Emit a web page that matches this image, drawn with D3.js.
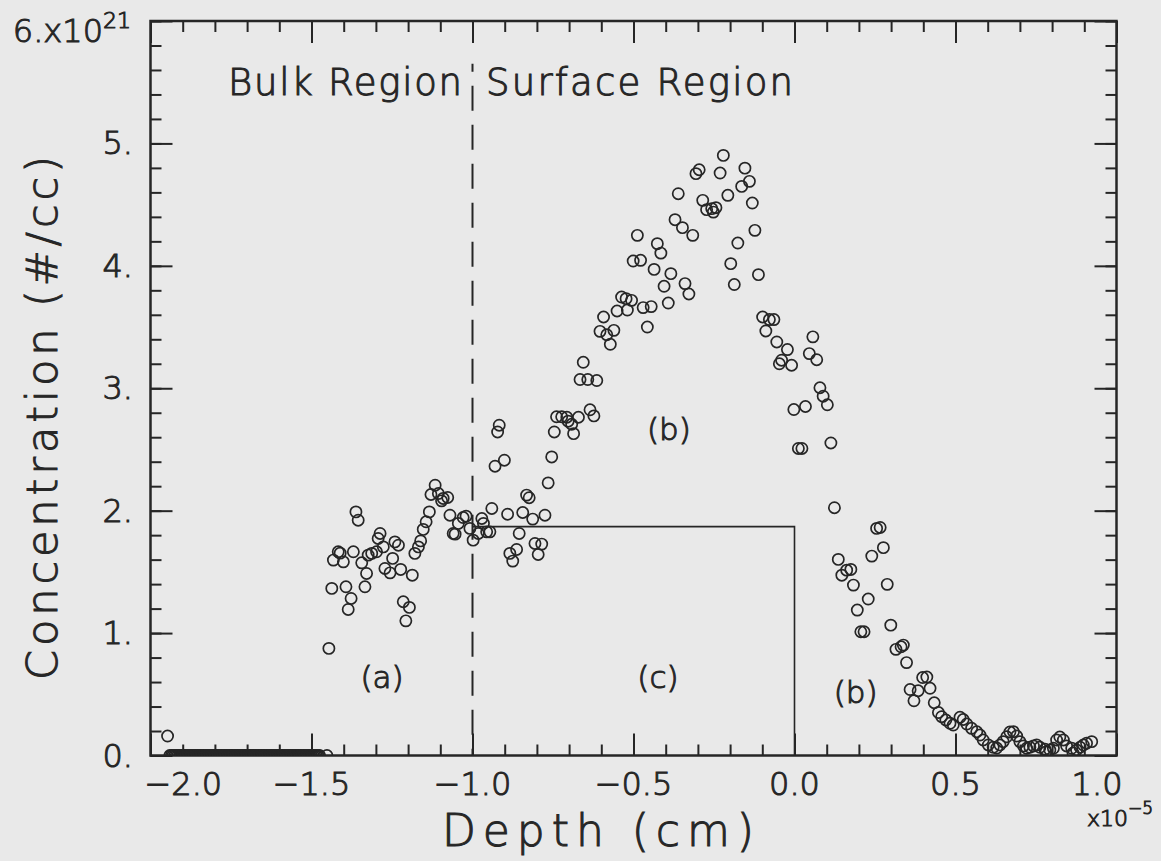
<!DOCTYPE html>
<html>
<head>
<meta charset="utf-8">
<script src="https://cdn.jsdelivr.net/npm/d3@7"></script>
<style>
  body { margin: 0; background: #e9e9e9; }
  svg { display: block; }
  text {
    font-family: "DejaVu Sans", sans-serif;
    font-weight: 200;
    fill: #262626;
    stroke: #262626;
    stroke-width: 1;
  }
</style>
</head>
<body>
<div id="chart"></div>
<script>
// depth in units of 1e-5 cm, concentration in units of 1e21 #/cc
const depth = [
  -1.947, -1.452, -1.446, -1.437, -1.432, -1.417, -1.411, -1.401, -1.393, -1.386,
  -1.377, -1.370, -1.362, -1.355, -1.344, -1.334, -1.329, -1.324, -1.313, -1.298,
  -1.293, -1.287, -1.277, -1.272, -1.256, -1.248, -1.241, -1.230, -1.223, -1.215,
  -1.207, -1.196, -1.187, -1.179, -1.168, -1.161, -1.153, -1.144, -1.134, -1.129,
  -1.116, -1.106, -1.096, -1.091, -1.077, -1.070, -1.060, -1.054, -1.044, -1.029,
  -1.020, -1.008, -0.998, -0.982, -0.971, -0.966, -0.956, -0.946, -0.940, -0.930,
  -0.922, -0.917, -0.901, -0.891, -0.884, -0.875, -0.863, -0.855, -0.844, -0.832,
  -0.824, -0.813, -0.806, -0.796, -0.785, -0.775, -0.765, -0.754, -0.746, -0.739,
  -0.723, -0.707, -0.703, -0.692, -0.686, -0.671, -0.666, -0.656, -0.642, -0.635,
  -0.623, -0.614, -0.604, -0.593, -0.583, -0.572, -0.561, -0.551, -0.537, -0.523,
  -0.519, -0.506, -0.501, -0.488, -0.478, -0.470, -0.457, -0.445, -0.436, -0.426,
  -0.415, -0.405, -0.392, -0.384, -0.371, -0.361, -0.348, -0.340, -0.328, -0.316,
  -0.306, -0.296, -0.285, -0.273, -0.257, -0.252, -0.244, -0.231, -0.221, -0.207,
  -0.198, -0.187, -0.176, -0.164, -0.154, -0.140, -0.131, -0.123, -0.112, -0.099,
  -0.089, -0.078, -0.064, -0.055, -0.047, -0.040, -0.022, -0.009, -0.002, 0.012,
  0.023, 0.034, 0.046, 0.057, 0.069, 0.079, 0.089, 0.102, 0.113, 0.124,
  0.136, 0.147, 0.162, 0.175, 0.183, 0.195, 0.206, 0.216, 0.229, 0.240,
  0.255, 0.266, 0.276, 0.288, 0.299, 0.315, 0.331, 0.338, 0.348, 0.359,
  0.371, 0.384, 0.398, 0.411, 0.421, 0.434, 0.447, 0.457, 0.470, 0.483,
  0.493, 0.514, 0.524, 0.535, 0.550, 0.566, 0.576, 0.586, 0.602, 0.617,
  0.628, 0.638, 0.648, 0.659, 0.669, 0.680, 0.690, 0.700, 0.711, 0.721,
  0.731, 0.742, 0.752, 0.762, 0.778, 0.781, 0.793, 0.804, 0.814, 0.824,
  0.835, 0.845, 0.861, 0.865, 0.876, 0.887, 0.897, 0.907, 0.923
];
const conc = [
  0.159, 0.000, 0.875, 1.365, 1.596, 1.664, 1.653, 1.582, 1.378, 1.193,
  1.283, 1.664, 1.990, 1.922, 1.574, 1.378, 1.487, 1.637, 1.651, 1.664,
  1.773, 1.814, 1.704, 1.528, 1.492, 1.610, 1.745, 1.718, 1.520, 1.256,
  1.100, 1.210, 1.473, 1.651, 1.704, 1.753, 1.847, 1.909, 1.990, 2.132,
  2.208, 2.140, 2.080, 2.100, 2.108, 1.963, 1.814, 1.808, 1.896, 1.944,
  1.955, 1.855, 1.759, 1.814, 1.936, 1.896, 1.827, 1.827, 2.018, 2.363,
  2.643, 2.698, 2.412, 1.971, 1.651, 1.588, 1.683, 1.814, 1.985, 2.127,
  2.106, 1.931, 1.732, 1.642, 1.727, 1.963, 2.227, 2.439, 2.643, 2.767,
  2.767, 2.763, 2.731, 2.706, 2.629, 2.763, 3.071, 3.212, 3.071, 2.824,
  2.774, 3.063, 3.465, 3.582, 3.437, 3.359, 3.473, 3.631, 3.745, 3.732,
  3.639, 3.718, 4.039, 4.249, 4.045, 3.659, 3.500, 3.667, 3.971, 4.181,
  4.104, 3.833, 3.696, 3.936, 4.377, 4.589, 4.312, 3.855, 3.770, 4.249,
  4.753, 4.785, 4.535, 4.459, 4.467, 4.439, 4.475, 4.758, 4.902, 4.576,
  4.018, 3.847, 4.186, 4.649, 4.798, 4.690, 4.513, 4.290, 3.928, 3.582,
  3.468, 3.561, 3.561, 3.378, 3.200, 3.229, 3.316, 3.188, 2.826, 2.508,
  2.508, 2.851, 3.283, 3.420, 3.233, 3.004, 2.935, 2.865, 2.553, 2.024,
  1.602, 1.473, 1.514, 1.520, 1.392, 1.188, 1.011, 1.011, 1.278, 1.629,
  1.855, 1.863, 1.698, 1.398, 1.065, 0.867, 0.888, 0.902, 0.759, 0.539,
  0.447, 0.529, 0.637, 0.641, 0.549, 0.431, 0.351, 0.317, 0.290, 0.263,
  0.249, 0.312, 0.294, 0.257, 0.222, 0.194, 0.167, 0.127, 0.086, 0.067,
  0.061, 0.086, 0.113, 0.153, 0.192, 0.194, 0.159, 0.113, 0.078, 0.059,
  0.067, 0.078, 0.086, 0.067, 0.051, 0.029, 0.045, 0.059, 0.127, 0.151,
  0.127, 0.078, 0.059, 0.020, 0.045, 0.067, 0.086, 0.100, 0.113
];
// dense run of zero readings deep in the bulk
const zeroDepth = [
  -1.940, -1.935, -1.930, -1.925, -1.920, -1.915, -1.910, -1.905, -1.900, -1.895,
  -1.890, -1.885, -1.880, -1.875, -1.870, -1.865, -1.860, -1.855, -1.850, -1.845,
  -1.840, -1.835, -1.830, -1.825, -1.820, -1.815, -1.810, -1.805, -1.800, -1.795,
  -1.790, -1.785, -1.780, -1.775, -1.770, -1.765, -1.760, -1.755, -1.750, -1.745,
  -1.740, -1.735, -1.730, -1.725, -1.720, -1.715, -1.710, -1.705, -1.700, -1.695,
  -1.690, -1.685, -1.680, -1.675, -1.670, -1.665, -1.660, -1.655, -1.650, -1.645,
  -1.640, -1.635, -1.630, -1.625, -1.620, -1.615, -1.610, -1.605, -1.600, -1.595,
  -1.590, -1.585, -1.580, -1.575, -1.570, -1.565, -1.560, -1.555, -1.550, -1.545,
  -1.540, -1.535, -1.530, -1.525, -1.520, -1.515, -1.510, -1.505, -1.500, -1.495,
  -1.490, -1.485, -1.480, -1.475
];
// region (c) step
const stepDepth = [-1.0, 0.0, 0.0];
const stepConc = [1.87, 1.87, 0.0];
const boundaryDepth = -1.0;

const xTicks = [-2.0, -1.5, -1.0, -0.5, 0.0, 0.5, 1.0];
const xTickLabels = ["\u22122.0", "\u22121.5", "\u22121.0", "\u22120.5", "0.0", "0.5", "1.0"];
const yTicks = [0, 1, 2, 3, 4, 5];
const yTickLabels = ["0.", "1.", "2.", "3.", "4.", "5."];
const regionNames = ["Bulk Region", "Surface Region"];
const partLabels = ["(a)", "(b)", "(c)", "(b)"];
const partDepth = [-1.281, -0.39, -0.424, 0.19];
const partConc = [0.55, 2.58, 0.55, 0.43];

const width = 1161;
const height = 861;
const margin = { top: 21, right: 44.5, bottom: 105.5, left: 150.5 };
const ink = "#262626";

const svg = d3
  .select("#chart")
  .append("svg")
  .attr("width", width)
  .attr("height", height);

svg.append("rect").attr("width", width).attr("height", height).attr("fill", "#e9e9e9");

const x = d3.scaleLinear().domain([-2.0, 1.0]).range([margin.left, width - margin.right]);
const y = d3.scaleLinear().domain([0, 6]).range([height - margin.bottom, margin.top]);

svg
  .append("clipPath")
  .attr("id", "plot-clip")
  .append("rect")
  .attr("x", x(-2))
  .attr("y", y(6))
  .attr("width", x(1) - x(-2))
  .attr("height", y(0) - y(6));

// ticks (inward, all four sides)
const xMinor = d3.range(-20, 11).map((d) => d / 10);
const yMinor = d3.range(0, 31).map((d) => d / 5);

function tickAxis(axis, scale, values, size, transform) {
  const g = svg
    .append("g")
    .attr("transform", transform)
    .call(axis(scale).tickValues(values).tickSize(size).tickFormat(""));
  g.select(".domain").remove();
  g.selectAll("line").attr("stroke", ink).attr("stroke-width", 2);
}
tickAxis(d3.axisBottom, x, xMinor, -11, `translate(0,${y(0)})`);
tickAxis(d3.axisBottom, x, xTicks, -22, `translate(0,${y(0)})`);
tickAxis(d3.axisTop, x, xMinor, -11, `translate(0,${y(6)})`);
tickAxis(d3.axisTop, x, xTicks, -22, `translate(0,${y(6)})`);
tickAxis(d3.axisLeft, y, yMinor, -11, `translate(${x(-2)},0)`);
tickAxis(d3.axisLeft, y, yTicks.concat([6]), -22, `translate(${x(-2)},0)`);
tickAxis(d3.axisRight, y, yMinor, -11, `translate(${x(1)},0)`);
tickAxis(d3.axisRight, y, yTicks.concat([6]), -22, `translate(${x(1)},0)`);

svg
  .append("rect")
  .attr("x", x(-2))
  .attr("y", y(6))
  .attr("width", x(1) - x(-2))
  .attr("height", y(0) - y(6))
  .attr("fill", "none")
  .attr("stroke", ink)
  .attr("stroke-width", 2.5);

// tick labels
svg
  .selectAll(".xlab")
  .data(xTicks)
  .join("text")
  .attr("class", "xlab")
  .attr("x", (d, i) => (i === 0 ? x(d) - 6 : i === xTicks.length - 1 ? x(d) + 6 : x(d)))
  .attr("y", 795)
  .attr("text-anchor", (d, i) => (i === 0 ? "start" : i === xTicks.length - 1 ? "end" : "middle"))
  .attr("font-size", 32)
  .text((d, i) => xTickLabels[i]);

svg
  .selectAll(".ylab")
  .data(yTicks)
  .join("text")
  .attr("class", "ylab")
  .attr("x", 133)
  .attr("y", (d) => y(d) + 11)
  .attr("text-anchor", "end")
  .attr("font-size", 32)
  .text((d, i) => yTickLabels[i]);

const yTopLabel = svg.append("text").attr("x", 131).attr("y", 42).attr("text-anchor", "end").attr("font-size", 32);
yTopLabel.append("tspan").text("6.x10");
yTopLabel.append("tspan").attr("dy", -14).attr("font-size", 22).text("21");

const xExp = svg
  .append("text")
  .attr("x", 1153)
  .attr("y", 826)
  .attr("text-anchor", "end")
  .attr("font-size", 22)
  .attr("stroke-width", 0.7);
xExp.append("tspan").text("x10");
xExp.append("tspan").attr("dy", -12).attr("font-size", 17).text("\u22125");

// axis titles
svg
  .append("text")
  .attr("x", 598)
  .attr("y", 846)
  .attr("text-anchor", "middle")
  .attr("font-size", 44)
  .attr("textLength", 312)
  .attr("lengthAdjust", "spacing")
  .text("Depth (cm)");

svg
  .append("text")
  .attr("transform", `translate(57,${418}) rotate(-90)`)
  .attr("text-anchor", "middle")
  .attr("font-size", 43)
  .attr("textLength", 524)
  .attr("lengthAdjust", "spacing")
  .text("Concentration (#/cc)");

// region captions
svg
  .append("text")
  .attr("x", 228)
  .attr("y", 95)
  .attr("font-size", 37)
  .attr("textLength", 234)
  .attr("lengthAdjust", "spacing")
  .text(regionNames[0]);
svg
  .append("text")
  .attr("x", 486)
  .attr("y", 95)
  .attr("font-size", 37)
  .attr("textLength", 307)
  .attr("lengthAdjust", "spacing")
  .text(regionNames[1]);

// boundary and step
svg
  .append("line")
  .attr("x1", x(boundaryDepth))
  .attr("x2", x(boundaryDepth))
  .attr("y1", y(5.65))
  .attr("y2", y(0))
  .attr("stroke", ink)
  .attr("stroke-width", 2)
  .attr("stroke-dasharray", "25,14")
  .attr("stroke-dashoffset", 17);

const step = d3
  .line()
  .x((d) => x(d[0]))
  .y((d) => y(d[1]));
svg
  .append("path")
  .attr("d", step(stepDepth.map((d, i) => [d, stepConc[i]])))
  .attr("fill", "none")
  .attr("stroke", ink)
  .attr("stroke-width", 1.6);

svg
  .selectAll(".part")
  .data(partLabels)
  .join("text")
  .attr("class", "part")
  .attr("x", (d, i) => x(partDepth[i]))
  .attr("y", (d, i) => y(partConc[i]))
  .attr("text-anchor", "middle")
  .attr("font-size", 31)
  .text((d) => d);

// measured points
const points = depth
  .map((d, i) => ({ x: d, y: conc[i] }))
  .concat(zeroDepth.map((d) => ({ x: d, y: 0 })));

svg
  .append("g")
  .attr("clip-path", "url(#plot-clip)")
  .selectAll("circle")
  .data(points)
  .join("circle")
  .attr("cx", (d) => x(d.x))
  .attr("cy", (d) => y(d.y))
  .attr("r", 5.6)
  .attr("fill", "none")
  .attr("stroke", ink)
  .attr("stroke-width", 1.7);
</script>
</body>
</html>
